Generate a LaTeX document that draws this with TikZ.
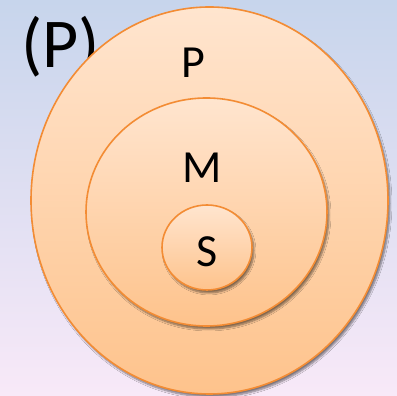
\documentclass[tikz,border=0pt]{standalone}
\usepackage{fontspec}
\setmainfont{Carlito}
\usetikzlibrary{shapes.geometric, shadows.blur}

\definecolor{bgtop}{RGB}{199,213,236}
\definecolor{bgbot}{RGB}{248,233,248}
\definecolor{peachtop}{RGB}{255,229,207}
\definecolor{peachbot}{RGB}{254,195,140}
\definecolor{rim}{RGB}{243,140,52}

\begin{document}
\begin{tikzpicture}[
  x=1pt, y=1pt,
  ring/.style={ellipse, draw=rim, line width=1.6pt, inner sep=0pt, top color=peachtop, bottom color=peachbot,
    blur shadow={shadow xshift=2pt, shadow yshift=-3pt, shadow blur steps=6, shadow opacity=50}},
  tag/.style={inner sep=0pt, font=\fontsize{46}{46}\selectfont}
]

% -------------------------
% BACKGROUND
% -------------------------
\shade[top color=bgtop, bottom color=bgbot] (0,0) rectangle (397,396);
\useasboundingbox (0,0) rectangle (397,396);

% title fragment, partly hidden behind the rings
\node[inner sep=0pt, anchor=base west, font=\fontsize{70}{70}\selectfont] (title) at (21,328) {(P)};

% -------------------------
% NESTED RINGS
% -------------------------
\node[ring, minimum width=357pt, minimum height=387pt] (ringP) at (209.5,195.5) {};
\node[ring, minimum width=241pt, minimum height=228pt] (ringM) at (206.5,184) {};
\node[ring, minimum width=90pt, minimum height=85pt] (ringS) at (207,148.5) {};

% labels
\node[tag] (labP) at (193,333) {P};
\node[tag] (labM) at (202,228) {M};
\node[tag] (labS) at (207,144) {S};

\end{tikzpicture}
\end{document}
